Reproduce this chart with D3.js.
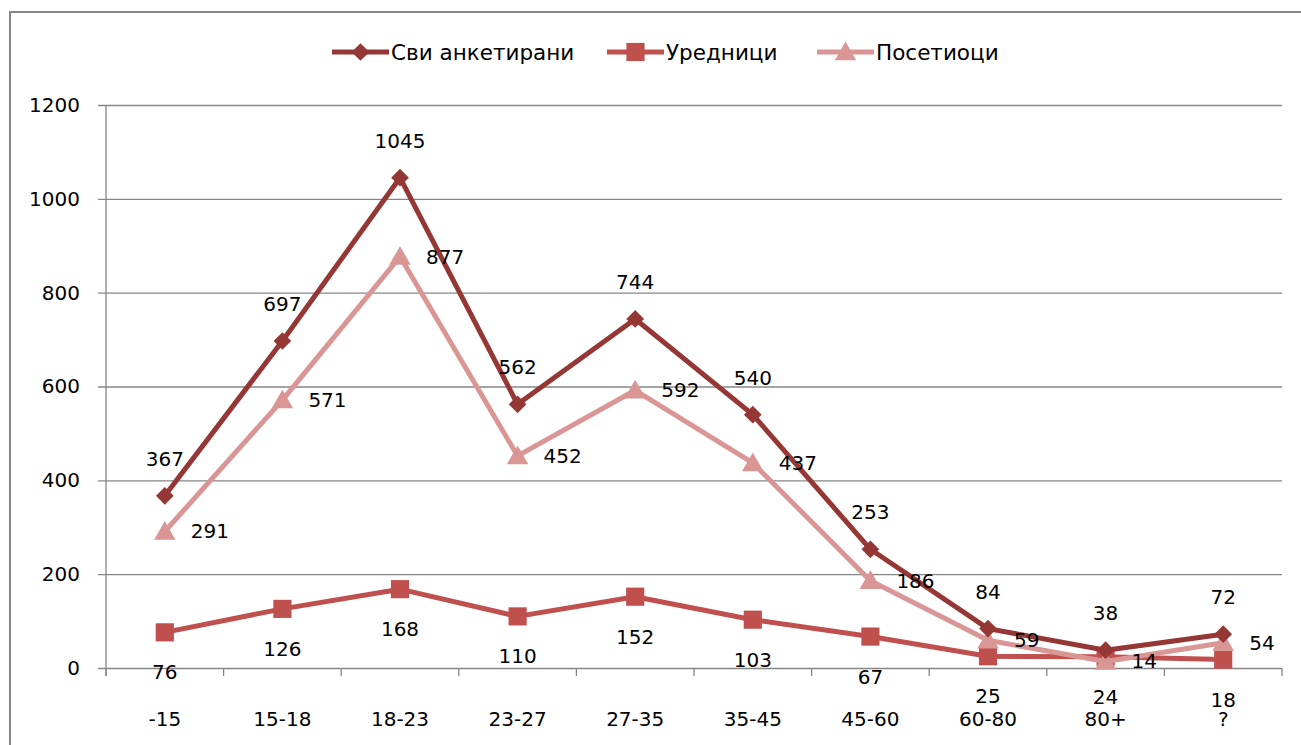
<!DOCTYPE html>
<html>
<head>
<meta charset="utf-8">
<script src="https://cdn.jsdelivr.net/npm/d3@7"></script>
<style>
  body { margin: 0; background: #fff; }
  text { font-family: "DejaVu Sans", sans-serif; fill: #000; }
</style>
</head>
<body>
<div id="chart"></div>
<script>
// data
const categories = ['-15', '15-18', '18-23', '23-27', '27-35', '35-45', '45-60', '60-80', '80+', '?'];
const seriesNames = ['Сви анкетирани', 'Уредници', 'Посетиоци'];
const allRespondents = [367, 697, 1045, 562, 744, 540, 253, 84, 38, 72];
const editors = [76, 126, 168, 110, 152, 103, 67, 25, 24, 18];
const visitors = [291, 571, 877, 452, 592, 437, 186, 59, 14, 54];
const yTicks = [0, 200, 400, 600, 800, 1000, 1200];

const width = 1301, height = 745;
const plot = {left: 106, right: 1282, top: 105, bottom: 668};
const fontSize = '20px';

const series = [
  {name: seriesNames[0], values: allRespondents, color: '#953735', symbol: d3.symbolDiamond2, size: 200, label: 'above'},
  {name: seriesNames[1], values: editors, color: '#c0504d', symbol: d3.symbolSquare, size: 330, label: 'below'},
  {name: seriesNames[2], values: visitors, color: '#d99694', symbol: d3.symbolTriangle, size: 200, label: 'right'}
];

const svg = d3.select('#chart').append('svg')
  .attr('width', width)
  .attr('height', height);

// outer frame (cut off on the right and bottom)
svg.append('path')
  .attr('d', `M10,${height + 2}V12H${width + 2}`)
  .attr('fill', 'none')
  .attr('stroke', '#868686')
  .attr('stroke-width', 2);

const x = d3.scaleBand()
  .domain(categories)
  .range([plot.left, plot.right]);
const cx = d => x(d) + x.bandwidth() / 2;

const y = d3.scaleLinear()
  .domain([0, 1200])
  .range([plot.bottom, plot.top]);

// gridlines + y ticks
const yAxis = d3.axisLeft(y)
  .tickValues(yTicks)
  .tickSize(-(plot.right - plot.left))
  .tickPadding(26)
  .tickFormat(d3.format('d'));

const gy = svg.append('g')
  .attr('transform', `translate(${plot.left},0)`)
  .call(yAxis);
gy.select('.domain').remove();
gy.selectAll('.tick line')
  .attr('x1', -8)
  .attr('stroke', '#868686')
  .attr('stroke-width', 1.3);
gy.selectAll('.tick text')
  .style('font-size', fontSize)
  .attr('fill', '#000');

svg.append('line')
  .attr('x1', plot.left).attr('x2', plot.left)
  .attr('y1', plot.top).attr('y2', plot.bottom + 8)
  .attr('stroke', '#868686')
  .attr('stroke-width', 1.3);

// x axis: ticks at category boundaries
const xEdges = categories.map(c => x(c)).concat([plot.right]);
svg.append('g')
  .selectAll('line')
  .data(xEdges)
  .join('line')
  .attr('x1', d => d).attr('x2', d => d)
  .attr('y1', plot.bottom).attr('y2', plot.bottom + 8)
  .attr('stroke', '#868686')
  .attr('stroke-width', 1.3);

svg.append('g')
  .selectAll('text')
  .data(categories)
  .join('text')
  .attr('x', d => cx(d))
  .attr('y', 726)
  .attr('text-anchor', 'middle')
  .style('font-size', fontSize)
  .text(d => d);

// lines
const line = d3.line()
  .x((d, i) => cx(categories[i]))
  .y(d => y(d));

const order = [1, 2, 0];
order.forEach(k => {
  const s = series[k];
  svg.append('path')
    .datum(s.values)
    .attr('d', line)
    .attr('fill', 'none')
    .attr('stroke', s.color)
    .attr('stroke-width', 5)
    .attr('stroke-linejoin', 'round');

  svg.append('g')
    .selectAll('path')
    .data(s.values)
    .join('path')
    .attr('d', d3.symbol().type(s.symbol).size(s.size))
    .attr('transform', (d, i) => `translate(${cx(categories[i])},${y(d) + (s.symbol === d3.symbolTriangle ? 2 : 0)})`)
    .attr('fill', s.color);
});

// data labels
series.forEach(s => {
  svg.append('g')
    .selectAll('text')
    .data(s.values)
    .join('text')
    .attr('x', (d, i) => s.label === 'right' ? cx(categories[i]) + 26 : cx(categories[i]))
    .attr('y', d => s.label === 'above' ? y(d) - 37 : s.label === 'below' ? y(d) + 40 : y(d))
    .attr('dy', '0.35em')
    .attr('text-anchor', s.label === 'right' ? 'start' : 'middle')
    .style('font-size', fontSize)
    .text(d => d);
});

// legend
const legendX = [332, 607, 817];
const legend = svg.append('g')
  .selectAll('g')
  .data(series)
  .join('g')
  .attr('transform', (d, i) => `translate(${legendX[i]},52)`);

legend.append('line')
  .attr('x1', 0).attr('x2', 57)
  .attr('stroke', d => d.color)
  .attr('stroke-width', 5);
legend.append('path')
  .attr('d', d => d3.symbol().type(d.symbol).size(d.size)())
  .attr('transform', d => `translate(28.5,${d.symbol === d3.symbolTriangle ? 2 : 0})`)
  .attr('fill', d => d.color);
legend.append('text')
  .attr('x', 59)
  .attr('dy', '0.35em')
  .style('font-size', '21.5px')
  .text(d => d.name);
</script>
</body>
</html>
